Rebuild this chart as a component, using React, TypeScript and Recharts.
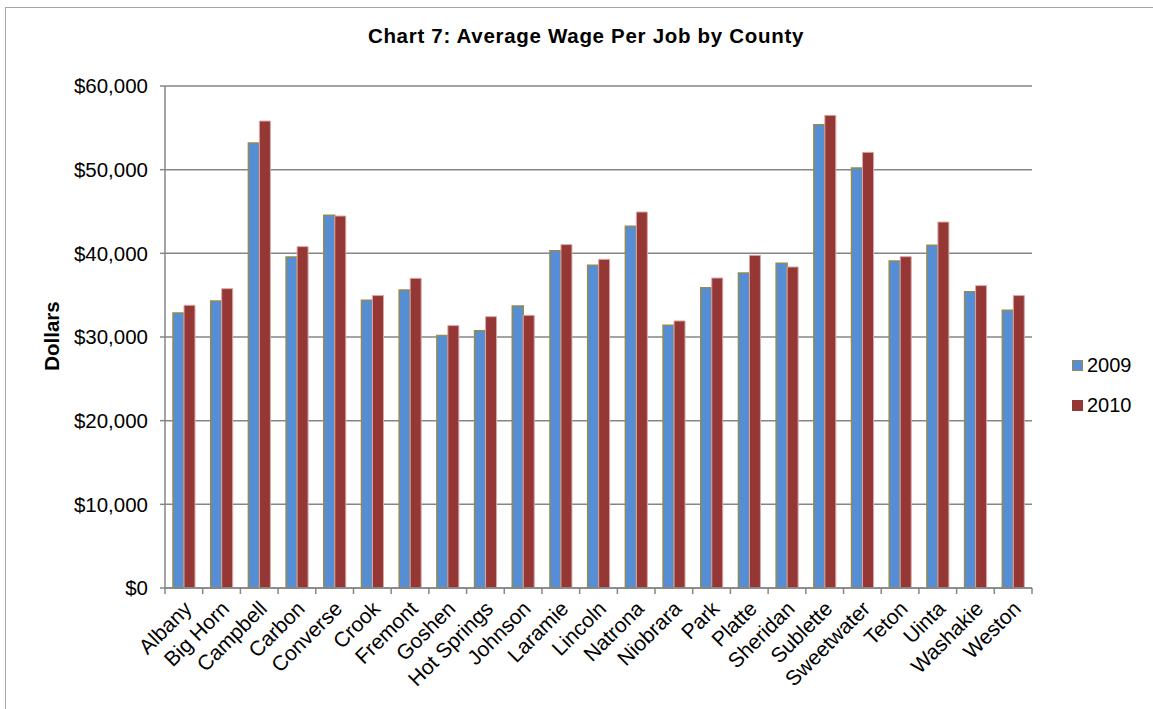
import { Bar, BarChart, CartesianGrid, Legend, XAxis, YAxis } from 'recharts'

const counties = [
  'Albany', 'Big Horn', 'Campbell', 'Carbon', 'Converse', 'Crook', 'Fremont',
  'Goshen', 'Hot Springs', 'Johnson', 'Laramie', 'Lincoln', 'Natrona',
  'Niobrara', 'Park', 'Platte', 'Sheridan', 'Sublette', 'Sweetwater', 'Teton',
  'Uinta', 'Washakie', 'Weston',
]

const wage2009 = [
  32870, 34300, 53180, 39560, 44540, 34380, 35620, 30170, 30760, 33710, 40320,
  38570, 43230, 31400, 35900, 37650, 38810, 55370, 50190, 39080, 40960, 35420,
  33190,
]

const wage2010 = [
  33790, 35780, 55810, 40800, 44460, 34950, 37010, 31360, 32430, 32590, 41040,
  39280, 44940, 31920, 37050, 39760, 38370, 56490, 52070, 39600, 43740, 36140,
  34950,
]

const yTicks = [0, 10000, 20000, 30000, 40000, 50000, 60000]

const series = [
  { key: 'y2009', name: '2009', fill: '#558ED5', stroke: '#948A54' },
  { key: 'y2010', name: '2010', fill: '#953735', stroke: '#D8A9A8' },
]

const data = counties.map((county, i) => ({
  county,
  y2009: wage2009[i],
  y2010: wage2010[i],
}))

const FONT = '"Liberation Sans", Arial, sans-serif'
const AXIS_GRAY = '#868686'

const formatDollar = (v: number) => '$' + v.toLocaleString('en-US')

// category labels rotated like Excel, tick marks sit between categories
const CountyTick = (props: any) => {
  const { x, y, payload, index, width } = props
  const half = (width ? width / counties.length : 37.7) / 2
  const last = index === counties.length - 1
  const tx = x + 9
  const ty = y + 16
  return (
    <g>
      <line x1={x - half} x2={x - half} y1={y - 6} y2={y} stroke={AXIS_GRAY} strokeWidth={1.5} />
      {last && (
        <line x1={x + half} x2={x + half} y1={y - 6} y2={y} stroke={AXIS_GRAY} strokeWidth={1.5} />
      )}
      <text
        x={tx}
        y={ty}
        textAnchor="end"
        transform={`rotate(-45, ${tx}, ${ty})`}
        fontSize={21}
        fontFamily={FONT}
        fill="#000"
      >
        {payload.value}
      </text>
    </g>
  )
}

const LegendBox = () => (
  <div style={{ width: 81, fontFamily: FONT, fontSize: 20, color: '#000' }}>
    {series.map((s) => (
      <div key={s.key} style={{ display: 'flex', alignItems: 'center', height: 40.5 }}>
        <span
          style={{
            display: 'inline-block',
            width: 9,
            height: 9,
            background: s.fill,
            border: `1.5px solid ${s.name === '2009' ? s.stroke : s.fill}`,
          }}
        />
        <span style={{ marginLeft: 4 }}>{s.name}</span>
      </div>
    ))}
  </div>
)

export default function App() {
  return (
    <div style={{ position: 'absolute', left: 0, top: 0, width: 1153, height: 709, overflow: 'hidden', background: '#fff' }}>
      <div
        style={{
          position: 'absolute',
          left: 5,
          top: 7,
          width: 1200,
          height: 760,
          border: '1.5px solid #A6A6A6',
        }}
      />
      <div
        style={{
          position: 'absolute',
          left: 0,
          width: 1172,
          top: 25,
          textAlign: 'center',
          fontFamily: FONT,
          fontWeight: 'bold',
          fontSize: 20.5,
          lineHeight: '21px',
          letterSpacing: 0.7,
          whiteSpace: 'nowrap',
        }}
      >
        Chart 7: Average Wage Per Job by County
      </div>
      <div
        style={{
          position: 'absolute',
          left: 52,
          top: 336,
          transform: 'translate(-50%, -50%) rotate(-90deg)',
          fontFamily: FONT,
          fontWeight: 'bold',
          fontSize: 20.5,
          lineHeight: '20px',
          whiteSpace: 'nowrap',
        }}
      >
        Dollars
      </div>
      <div style={{ position: 'absolute', left: 0, top: 0 }}>
        <BarChart
          width={1153}
          height={709}
          data={data}
          margin={{ top: 86, right: 121, left: 55, bottom: 21 }}
          barGap={0}
          barSize={11}
        >
          <CartesianGrid horizontal vertical={false} stroke={AXIS_GRAY} strokeWidth={1.5} />
          <XAxis
            dataKey="county"
            interval={0}
            height={100}
            tickLine={false}
            tickSize={6}
            tickMargin={0}
            stroke={AXIS_GRAY}
            strokeWidth={1.5}
            tick={<CountyTick />}
          />
          <YAxis
            width={110}
            domain={[0, 60000]}
            ticks={yTicks}
            interval={0}
            tickFormatter={formatDollar}
            tickSize={5}
            tickMargin={12}
            stroke={AXIS_GRAY}
            strokeWidth={1.5}
            tick={{ fill: '#000', fontSize: 20.5, fontFamily: FONT }}
          />
          <Legend
            layout="horizontal"
            align="center"
            verticalAlign="middle"
            wrapperStyle={{ left: 1072, top: 345, width: 81 }}
            content={<LegendBox />}
          />
          {series.map((s) => (
            <Bar
              key={s.key}
              dataKey={s.key}
              name={s.name}
              fill={s.fill}
              stroke={s.stroke}
              strokeWidth={s.name === '2009' ? 1.5 : 1}
              isAnimationActive={false}
            />
          ))}
        </BarChart>
      </div>
    </div>
  )
}
